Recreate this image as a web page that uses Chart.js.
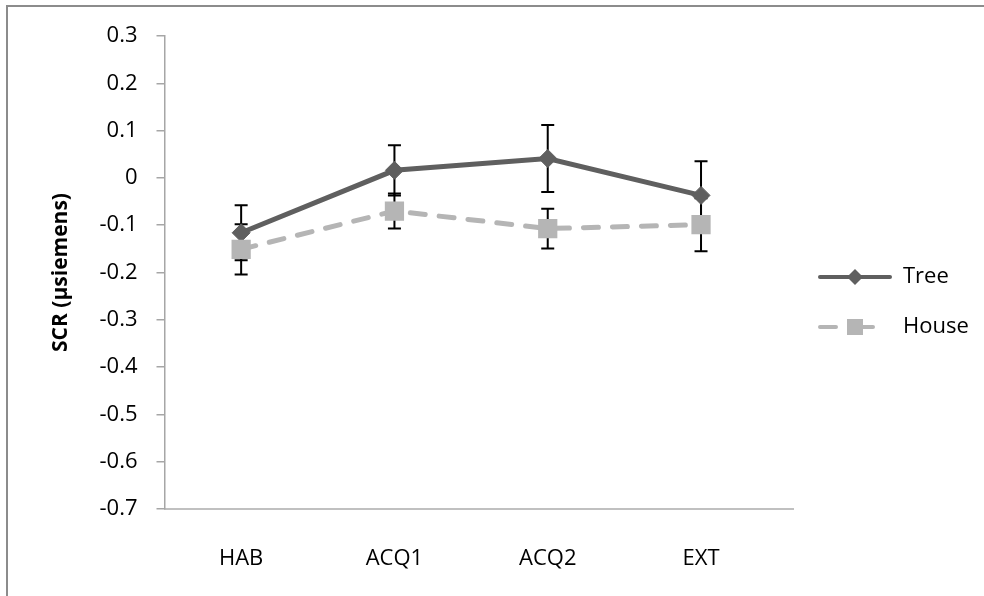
<!DOCTYPE html>
<html>
<head>
<meta charset="utf-8">
<script src="https://cdn.jsdelivr.net/npm/chart.js@4.4.0/dist/chart.umd.min.js"></script>
<style>
    html, body { margin: 0; padding: 0; background: #fff; }
    #wrap { position: relative; width: 984px; height: 596px; overflow: hidden; }
    #chart { position: absolute; left: 0; top: 0; }
    #frame {
        position: absolute; left: 6px; top: 5px; width: 1200px; height: 800px;
        border-left: 2px solid #8c8c8c; border-top: 2px solid #8c8c8c;
        pointer-events: none;
    }
</style>
</head>
<body>
<div id="wrap">
    <canvas id="chart" width="984" height="596"></canvas>
    <div id="frame"></div>
</div>
<script>
const categories = ['HAB', 'ACQ1', 'ACQ2', 'EXT'];
const seriesNames = ['Tree', 'House'];
const treeValues = [-0.116, 0.016, 0.041, -0.037];
const treeErrors = [0.058, 0.053, 0.071, 0.072];
const houseValues = [-0.151, -0.070, -0.107, -0.099];
const houseErrors = [0.053, 0.037, 0.042, 0.056];
const yTicks = [0.3, 0.2, 0.1, 0, -0.1, -0.2, -0.3, -0.4, -0.5, -0.6, -0.7];

const FONT = '"Open Sans", sans-serif';
const TREE_COLOR = '#5f5f5f';
const HOUSE_COLOR = '#b5b5b5';

// legend swatches: line + marker, like the spreadsheet legend
function makeSwatch(kind) {
    const c = document.createElement('canvas');
    c.width = 74;
    c.height = 24;
    const g = c.getContext('2d');
    g.lineWidth = 4;
    g.lineCap = 'round';
    if (kind === 'tree') {
        g.strokeStyle = TREE_COLOR;
        g.beginPath();
        g.moveTo(2, 12);
        g.lineTo(72, 12);
        g.stroke();
        g.fillStyle = TREE_COLOR;
        g.beginPath();
        g.moveTo(37, 4);
        g.lineTo(45, 12);
        g.lineTo(37, 20);
        g.lineTo(29, 12);
        g.closePath();
        g.fill();
    } else {
        g.strokeStyle = HOUSE_COLOR;
        g.beginPath();
        g.moveTo(2, 12);
        g.lineTo(18, 12);
        g.moveTo(45, 12);
        g.lineTo(55, 12);
        g.stroke();
        g.fillStyle = HOUSE_COLOR;
        g.fillRect(29, 4, 16, 16);
    }
    return c;
}

const swatches = [makeSwatch('tree'), makeSwatch('house')];

// size the right padding so the plot area ends where the reference axis ends
const measure = document.createElement('canvas').getContext('2d');
measure.font = 'normal 22px ' + FONT;
const legendTextWidth = Math.max(...seriesNames.map(name => measure.measureText(name).width));
const legendWidth = 28 + 74 + 11 + legendTextWidth + 12;
const rightPad = Math.max(0, 984 - 791 - legendWidth);

const errorBars = {
    id: 'errorBars',
    beforeDatasetsDraw(chart) {
        const {ctx, scales: {x, y}} = chart;
        const sets = [[treeValues, treeErrors], [houseValues, houseErrors]];
        ctx.save();
        ctx.strokeStyle = '#000';
        ctx.lineWidth = 2;
        sets.forEach(([values, errors]) => {
            values.forEach((v, i) => {
                const px = x.getPixelForValue(i);
                const top = y.getPixelForValue(v + errors[i]);
                const bottom = y.getPixelForValue(v - errors[i]);
                ctx.beginPath();
                ctx.moveTo(px, top);
                ctx.lineTo(px, bottom);
                ctx.moveTo(px - 6.5, top);
                ctx.lineTo(px + 6.5, top);
                ctx.moveTo(px - 6.5, bottom);
                ctx.lineTo(px + 6.5, bottom);
                ctx.stroke();
            });
        });
        ctx.restore();
    }
};

const legendPlacement = {
    id: 'legendPlacement',
    afterLayout(chart) {
        const legend = chart.legend;
        if (!legend) {
            return;
        }
        const h = legend.bottom - legend.top;
        legend.left = 790;
        legend.right = 984;
        legend.top = 238;
        legend.bottom = 238 + h;
    }
};

new Chart(document.getElementById('chart'), {
    type: 'line',
    data: {
        datasets: [{
            label: seriesNames[0],
            data: treeValues.map((v, i) => ({x: i, y: v})),
            borderColor: TREE_COLOR,
            backgroundColor: TREE_COLOR,
            borderWidth: 5,
            pointStyle: 'rectRot',
            pointRadius: 9,
            pointBackgroundColor: TREE_COLOR,
            pointBorderColor: TREE_COLOR,
            pointBorderWidth: 1,
            tension: 0,
            order: 1
        }, {
            label: seriesNames[1],
            data: houseValues.map((v, i) => ({x: i, y: v})),
            borderColor: HOUSE_COLOR,
            backgroundColor: HOUSE_COLOR,
            borderWidth: 5,
            borderDash: [15, 14],
            borderCapStyle: 'round',
            pointStyle: 'rect',
            pointRadius: 13.6,
            pointBackgroundColor: HOUSE_COLOR,
            pointBorderColor: HOUSE_COLOR,
            pointBorderWidth: 0,
            tension: 0,
            order: 0
        }]
    },
    options: {
        responsive: false,
        animation: false,
        devicePixelRatio: 1,
        layout: {
            padding: {left: 0, top: 36, right: rightPad, bottom: 0}
        },
        plugins: {
            tooltip: {enabled: false},
            legend: {
                position: 'right',
                align: 'start',
                labels: {
                    usePointStyle: true,
                    pointStyleWidth: 74,
                    padding: 28,
                    color: '#000',
                    font: {family: FONT, size: 22},
                    generateLabels: () => seriesNames.map((name, i) => ({
                        text: name,
                        pointStyle: swatches[i],
                        fillStyle: 'transparent',
                        strokeStyle: 'transparent',
                        lineWidth: 0,
                        hidden: false,
                        datasetIndex: i,
                        fontColor: '#000'
                    }))
                }
            }
        },
        scales: {
            x: {
                type: 'linear',
                min: -0.5,
                max: 3.6,
                afterBuildTicks: scale => {
                    scale.ticks = categories.map((c, i) => ({value: i}));
                },
                afterFit: scale => {
                    scale.height = 87;
                },
                grid: {display: false},
                border: {display: true, color: '#c0c0c0', width: 2},
                ticks: {
                    callback: value => categories[value],
                    autoSkip: false,
                    maxRotation: 0,
                    padding: 29,
                    color: '#000',
                    font: {family: FONT, size: 22}
                }
            },
            y: {
                min: -0.7,
                max: 0.3,
                afterBuildTicks: scale => {
                    scale.ticks = yTicks.map(v => ({value: v}));
                },
                afterFit: scale => {
                    scale.width = 164.5;
                },
                grid: {
                    drawOnChartArea: false,
                    tickLength: 8,
                    color: '#a6a6a6',
                    lineWidth: 1.5
                },
                border: {color: '#a6a6a6', width: 1.5},
                ticks: {
                    callback: value => Number(value.toFixed(1)).toString(),
                    padding: 19,
                    color: '#000',
                    font: {family: FONT, size: 22}
                },
                title: {
                    display: true,
                    text: 'SCR (µsiemens)',
                    color: '#000',
                    font: {family: FONT, size: 21, weight: 'bold'},
                    padding: {top: 48, bottom: 0}
                }
            }
        }
    },
    plugins: [errorBars, legendPlacement]
});
</script>
</body>
</html>
